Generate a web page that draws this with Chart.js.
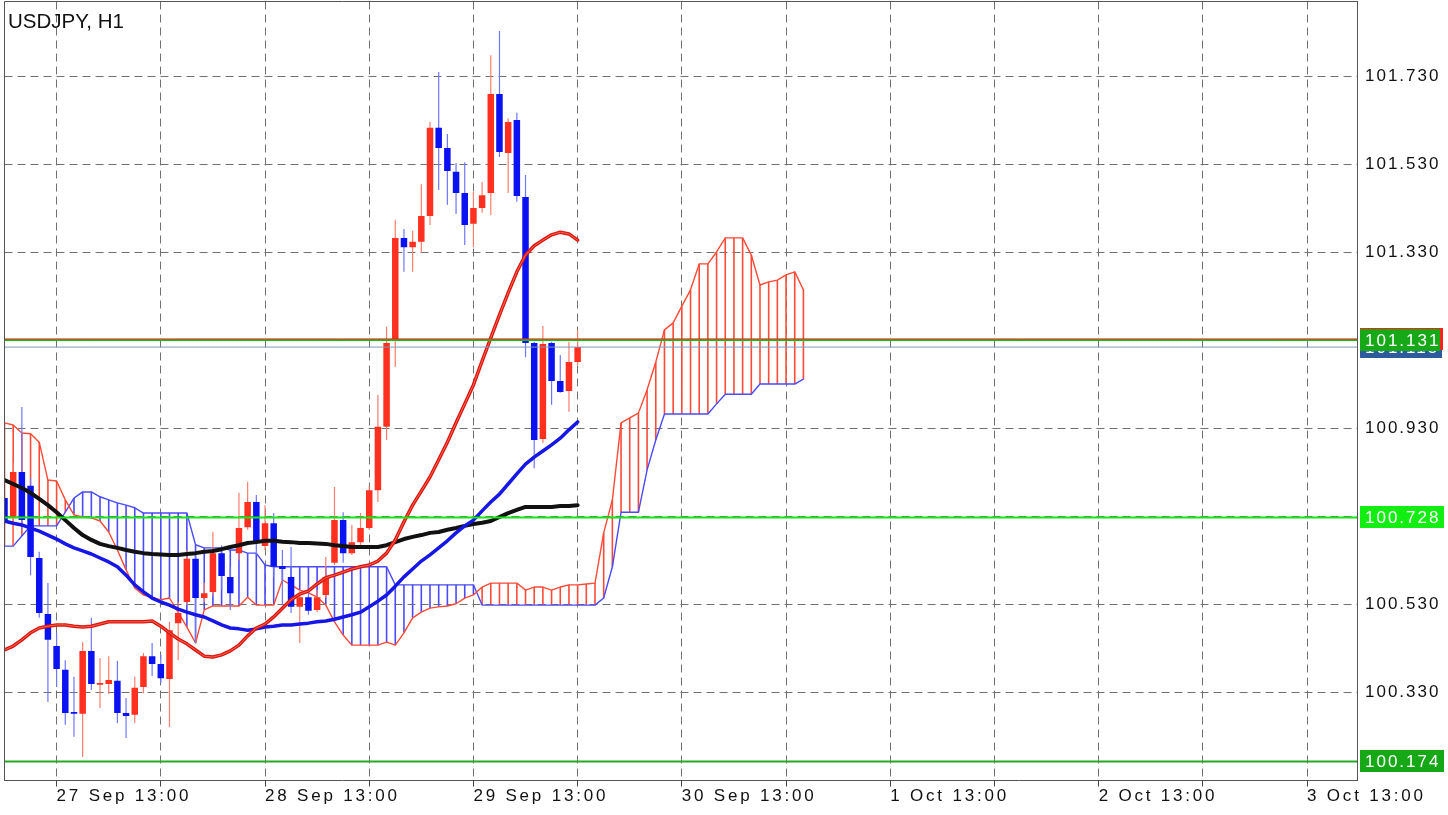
<!DOCTYPE html>
<html>
<head>
<meta charset="utf-8">
<title>USDJPY, H1</title>
<script src="https://cdn.jsdelivr.net/npm/chart.js@4.4.1/dist/chart.umd.min.js"></script>
<style>
    html, body { margin: 0; padding: 0; background: #fff; }
</style>
</head>
<body>
<canvas id="chart" width="1448" height="815"></canvas>
<script>
// USDJPY H1 - bar 0 is 27 Sep 13:00, one bar per hour
const firstBar = -6;

// candles, 27 Sep 07:00 .. 30 Sep 01:00
const openP = [
    100.772, 100.729, 100.831, 100.800, 100.636, 100.509,
    100.436, 100.382, 100.286, 100.282, 100.425, 100.348, 100.350, 100.357, 100.284, 100.280,
    100.343, 100.413, 100.395, 100.361, 100.488, 100.536, 100.634, 100.545, 100.559, 100.647,
    100.593, 100.647, 100.706, 100.763, 100.663, 100.715, 100.618, 100.593, 100.525, 100.547,
    100.518, 100.552, 100.625, 100.722, 100.647, 100.672, 100.704, 100.790, 100.934, 101.131,
    101.363, 101.342, 101.354, 101.413, 101.613, 101.567, 101.513, 101.465, 101.395, 101.431,
    101.465, 101.690, 101.556, 101.631, 101.456, 101.124, 100.906, 101.124, 101.038, 101.015,
    101.081
];
const highP = [
    100.786, 100.852, 100.979, 100.818, 100.650, 100.579,
    100.466, 100.404, 100.366, 100.445, 100.500, 100.409, 100.413, 100.402, 100.318, 100.366,
    100.420, 100.443, 100.416, 100.491, 100.536, 100.654, 100.647, 100.579, 100.695, 100.665,
    100.616, 100.784, 100.809, 100.779, 100.756, 100.738, 100.654, 100.661, 100.563, 100.575,
    100.563, 100.638, 100.797, 100.740, 100.711, 100.738, 100.800, 101.006, 101.161, 101.404,
    101.383, 101.379, 101.485, 101.626, 101.740, 101.599, 101.533, 101.535, 101.467, 101.490,
    101.778, 101.833, 101.635, 101.647, 101.506, 101.127, 101.163, 101.127, 101.097, 101.127,
    101.154
];
const lowP = [
    100.709, 100.665, 100.700, 100.597, 100.500, 100.309,
    100.343, 100.257, 100.230, 100.184, 100.336, 100.295, 100.327, 100.261, 100.227, 100.261,
    100.329, 100.368, 100.352, 100.252, 100.404, 100.529, 100.443, 100.536, 100.550, 100.563,
    100.518, 100.631, 100.700, 100.643, 100.654, 100.593, 100.529, 100.511, 100.443, 100.507,
    100.513, 100.545, 100.620, 100.625, 100.643, 100.665, 100.700, 100.763, 100.904, 101.070,
    101.286, 101.286, 101.329, 101.392, 101.472, 101.438, 101.417, 101.347, 101.342, 101.420,
    101.415, 101.547, 101.465, 101.445, 101.092, 100.840, 100.897, 100.984, 101.011, 100.968,
    101.074
];
const closeP = [
    100.722, 100.831, 100.722, 100.638, 100.511, 100.450,
    100.384, 100.284, 100.282, 100.425, 100.350, 100.352, 100.359, 100.284, 100.277, 100.341,
    100.413, 100.395, 100.363, 100.472, 100.511, 100.634, 100.545, 100.556, 100.647, 100.595,
    100.556, 100.704, 100.763, 100.672, 100.715, 100.616, 100.611, 100.525, 100.547, 100.516,
    100.547, 100.593, 100.722, 100.647, 100.672, 100.704, 100.790, 100.934, 101.124, 101.363,
    101.342, 101.354, 101.413, 101.613, 101.567, 101.515, 101.465, 101.392, 101.431, 101.460,
    101.690, 101.558, 101.626, 101.458, 101.124, 100.904, 101.122, 101.038, 101.013, 101.081,
    101.115
];

// moving averages, one value per candle
const maFast = [
    100.427, 100.436, 100.450, 100.466, 100.477, 100.481,
    100.484, 100.484, 100.481, 100.479, 100.481, 100.486, 100.491, 100.491, 100.491, 100.491,
    100.491, 100.493, 100.481, 100.466, 100.452, 100.441, 100.427, 100.413, 100.411, 100.416,
    100.425, 100.438, 100.459, 100.477, 100.486, 100.502, 100.522, 100.541, 100.554, 100.561,
    100.577, 100.591, 100.597, 100.604, 100.611, 100.616, 100.620, 100.629, 100.647, 100.677,
    100.718, 100.756, 100.788, 100.820, 100.859, 100.899, 100.943, 100.986, 101.029, 101.083,
    101.136, 101.188, 101.238, 101.286, 101.324, 101.345, 101.358, 101.370, 101.376, 101.372,
    101.358
];
const maMid = [
    100.720, 100.715, 100.711, 100.704, 100.697, 100.688,
    100.679, 100.668, 100.659, 100.652, 100.645, 100.636, 100.627, 100.616, 100.597, 100.575,
    100.559, 100.545, 100.536, 100.529, 100.520, 100.513, 100.507, 100.502, 100.493, 100.484,
    100.477, 100.475, 100.472, 100.475, 100.479, 100.481, 100.484, 100.484, 100.486, 100.488,
    100.491, 100.493, 100.497, 100.502, 100.507, 100.513, 100.525, 100.538, 100.552, 100.572,
    100.593, 100.611, 100.629, 100.643, 100.659, 100.675, 100.693, 100.709, 100.722, 100.743,
    100.763, 100.781, 100.804, 100.827, 100.849, 100.865, 100.879, 100.893, 100.908, 100.927,
    100.945
];
const maSlow = [
    100.813, 100.804, 100.795, 100.784, 100.770, 100.756,
    100.740, 100.722, 100.704, 100.688, 100.677, 100.668, 100.663, 100.659, 100.654, 100.650,
    100.647, 100.645, 100.644, 100.643, 100.643, 100.645, 100.647, 100.650, 100.652, 100.656,
    100.661, 100.665, 100.670, 100.672, 100.675, 100.675, 100.673, 100.672, 100.670, 100.670,
    100.669, 100.668, 100.665, 100.663, 100.661, 100.661, 100.661, 100.661, 100.665, 100.672,
    100.679, 100.684, 100.688, 100.693, 100.695, 100.700, 100.704, 100.709, 100.713, 100.716,
    100.720, 100.729, 100.738, 100.745, 100.752, 100.752, 100.752, 100.752, 100.754, 100.754,
    100.756
];

// ichimoku cloud, runs 26 bars past the last candle
const spanA = [
    100.943, 100.938, 100.920, 100.918, 100.899, 100.813,
    100.811, 100.768, 100.734, 100.729, 100.727, 100.720, 100.695, 100.654, 100.609, 100.568,
    100.552, 100.547, 100.541, 100.545, 100.513, 100.479, 100.443, 100.518, 100.527, 100.527,
    100.527, 100.527, 100.547, 100.529, 100.529, 100.529, 100.586, 100.575, 100.563, 100.557,
    100.547, 100.529, 100.491, 100.461, 100.438, 100.438, 100.438, 100.438, 100.445, 100.438,
    100.466, 100.500, 100.513, 100.522, 100.525, 100.527, 100.532, 100.545, 100.552, 100.570,
    100.579, 100.579, 100.579, 100.579, 100.563, 100.570, 100.570, 100.563, 100.570, 100.575,
    100.575, 100.577, 100.579, 100.693, 100.768, 100.943, 100.954, 100.965, 101.018, 101.081,
    101.154, 101.170, 101.208, 101.245, 101.304, 101.304, 101.331, 101.363, 101.363, 101.363,
    101.324, 101.256, 101.263, 101.267, 101.279, 101.286, 101.245
];
const spanB = [
    100.663, 100.663, 100.686, 100.709, 100.709, 100.709,
    100.709, 100.740, 100.772, 100.786, 100.786, 100.775, 100.768, 100.761, 100.756, 100.750,
    100.738, 100.738, 100.738, 100.738, 100.738, 100.738, 100.666, 100.659, 100.659, 100.659,
    100.654, 100.654, 100.647, 100.647, 100.620, 100.616, 100.616, 100.616, 100.616, 100.616,
    100.616, 100.616, 100.616, 100.616, 100.616, 100.616, 100.616, 100.616, 100.616, 100.575,
    100.575, 100.575, 100.575, 100.575, 100.575, 100.575, 100.575, 100.575, 100.575, 100.529,
    100.529, 100.529, 100.529, 100.529, 100.529, 100.529, 100.529, 100.529, 100.529, 100.529,
    100.529, 100.529, 100.529, 100.545, 100.616, 100.740, 100.740, 100.740, 100.836, 100.904,
    100.963, 100.963, 100.963, 100.963, 100.963, 100.963, 100.986, 101.008, 101.008, 101.008,
    101.008, 101.031, 101.031, 101.031, 101.031, 101.031, 101.042
];

// horizontal levels
const levels = [101.131, 100.728, 100.174];
const alertLevel = 101.1335;

// axis ticks
const xTickLabels = ['27 Sep 13:00', '28 Sep 13:00', '29 Sep 13:00', '30 Sep 13:00', '1 Oct 13:00', '2 Oct 13:00', '3 Oct 13:00'];
const xGridStep = 12;
const yTicks = [100.330, 100.530, 100.730, 100.930, 101.130, 101.330, 101.530, 101.730];

const xMin = -6, xMax = 149.75;
const yMin = 100.1306, yMax = 101.8999;

const RED = '#ff3020', BLUE = '#0a12f2';
const FONT = '"Liberation Sans", Arial, sans-serif';

const candleX = openP.map((_, k) => firstBar + k);
const cloudX = spanA.map((_, k) => firstBar + k);
const bull = openP.map((o, k) => closeP[k] >= o);
const bid = closeP[closeP.length - 1];

const series = (xs, ys) => ys.map((v, k) => ({ x: xs[k], y: v }));
const hline = v => [{ x: xMin, y: v }, { x: xMax, y: v }];

function lineSet(data, color, width, order) {
    return {
        type: 'line', data: data, borderColor: color, borderWidth: width,
        pointRadius: 0, tension: 0, fill: false, order: order, clip: 0,
        borderJoinStyle: 'round', borderCapStyle: 'round'
    };
}

function barSet(data, colors, thickness, order) {
    return {
        type: 'bar', data: data, backgroundColor: colors, borderWidth: 0,
        barThickness: thickness, grouped: false, minBarLength: 1,
        inflateAmount: 0, order: order, clip: 0
    };
}

// letter spaced tick labels, like the terminal's font
const spacing = { x: '2.8px', y: '2px' };
const spacedLabels = {
    id: 'spacedLabels',
    beforeDraw(chart) {
        Object.keys(spacing).forEach(id => {
            const s = chart.scales[id];
            if (!s || s._spaced) return;
            const draw = s.drawLabels.bind(s);
            s.drawLabels = function(area) {
                chart.ctx.save();
                chart.ctx.letterSpacing = spacing[id];
                draw(area);
                chart.ctx.restore();
            };
            s._spaced = true;
        });
    }
};

// left/top frame of the plot and the symbol caption
const frame = {
    id: 'frame',
    afterDraw(chart) {
        const { ctx, chartArea: a } = chart;
        ctx.save();
        ctx.strokeStyle = '#555';
        ctx.lineWidth = 1;
        ctx.beginPath();
        ctx.moveTo(a.left, a.bottom);
        ctx.lineTo(a.left, a.top);
        ctx.lineTo(a.right, a.top);
        ctx.stroke();
        ctx.font = '20.5px ' + FONT;
        ctx.fillStyle = '#111';
        ctx.fillText('USDJPY, H1', a.left + 3.5, a.top + 26);
        ctx.restore();
    }
};

// price labels on the right scale
const priceTags = {
    id: 'priceTags',
    afterDraw(chart) {
        const { ctx } = chart;
        const y = chart.scales.y;
        const tags = [
            { v: bid, bg: '#2d5c9c', right: 1442 },
            { v: alertLevel, bg: '#ff2218', right: 1443, text: '' },
            { v: levels[0], bg: '#16a816', right: 1440 },
            { v: levels[1], bg: '#12ee12', right: 1444 },
            { v: levels[2], bg: '#16a816', right: 1444 }
        ];
        ctx.save();
        ctx.font = '17px ' + FONT;
        ctx.letterSpacing = '2px';
        ctx.textBaseline = 'middle';
        tags.forEach(t => {
            const py = Math.round(y.getPixelForValue(t.v));
            const left = y.left + 3;
            ctx.fillStyle = t.bg;
            ctx.fillRect(left, py - 11, t.right - left, 22);
            ctx.fillStyle = '#fff';
            ctx.fillText(t.text !== undefined ? t.text : t.v.toFixed(3), left + 5, py + 1);
        });
        ctx.restore();
    }
};

const datasets = [
    // levels and bid line
    lineSet(hline(alertLevel), '#ff2020', 1, 0),
    lineSet(hline(levels[0]), '#12c012', 2, 1),
    lineSet(hline(bid), '#7f98b8', 1, 1),
    lineSet(hline(levels[1]), '#12e812', 2, 1),
    lineSet(hline(levels[2]), '#22aa22', 2, 1),
    // moving averages
    lineSet(series(candleX, maFast), 'rgba(245,120,105,0.9)', 0.9, 2),
    lineSet(series(candleX, maFast), '#dc160c', 3.5, 3),
    lineSet(series(candleX, maMid), '#1616e6', 3.5, 3),
    lineSet(series(candleX, maSlow), '#111111', 4, 4),
    // candles
    barSet(candleX.map((x, k) => ({ x: x, y: [openP[k], closeP[k]] })),
        bull.map(b => b ? RED : BLUE), 6.5, 5),
    barSet(candleX.map((x, k) => ({ x: x, y: [lowP[k], highP[k]] })),
        bull.map(b => b ? '#ff7d6e' : '#6f76ff'), 1.2, 6),
    // cloud
    lineSet(series(cloudX, spanA), '#ff4a38', 1.4, 7),
    lineSet(series(cloudX, spanB), '#4a4aff', 1.4, 7),
    barSet(cloudX.map((x, k) => ({ x: x, y: [spanA[k], spanB[k]] })),
        spanA.map((a, k) => a >= spanB[k] ? '#ff4a38' : '#4a4aff'), 1.6, 8)
];

new Chart(document.getElementById('chart'), {
    type: 'bar',
    data: { datasets: datasets },
    plugins: [spacedLabels, frame, priceTags],
    options: {
        responsive: false,
        devicePixelRatio: 1,
        animation: false,
        events: [],
        layout: { padding: { left: 4.5, top: 1.5, right: 0, bottom: 0 } },
        plugins: { legend: { display: false }, tooltip: { enabled: false } },
        scales: {
            x: {
                type: 'linear', position: 'bottom', min: xMin, max: xMax,
                offset: false,
                grid: { color: '#707070', offset: false, drawTicks: true, tickLength: 6,
                        tickColor: '#444', tickBorderDash: [] },
                border: { display: true, color: '#555', dash: [8, 5] },
                ticks: {
                    autoSkip: false, maxRotation: 0, align: 'start', padding: 0,
                    color: '#111', font: { family: FONT, size: 17 },
                    callback: v => v % 24 === 0 ? xTickLabels[v / 24] : ''
                },
                afterBuildTicks: s => {
                    const t = [];
                    for (let v = 0; v <= xMax; v += xGridStep) t.push({ value: v });
                    s.ticks = t;
                },
                afterFit: s => { s.height = 34.5; s.paddingLeft = 0; s.paddingRight = 0; }
            },
            y: {
                type: 'linear', position: 'right', min: yMin, max: yMax,
                grid: { color: '#707070', drawTicks: false },
                border: { display: true, color: '#555', dash: [8, 5] },
                ticks: {
                    padding: 8, color: '#111', font: { family: FONT, size: 17 },
                    callback: v => Number(v).toFixed(3)
                },
                afterBuildTicks: s => { s.ticks = yTicks.map(v => ({ value: v })); },
                afterFit: s => { s.width = 91; s.paddingTop = 0; s.paddingBottom = 0; }
            }
        }
    }
});
</script>
</body>
</html>
